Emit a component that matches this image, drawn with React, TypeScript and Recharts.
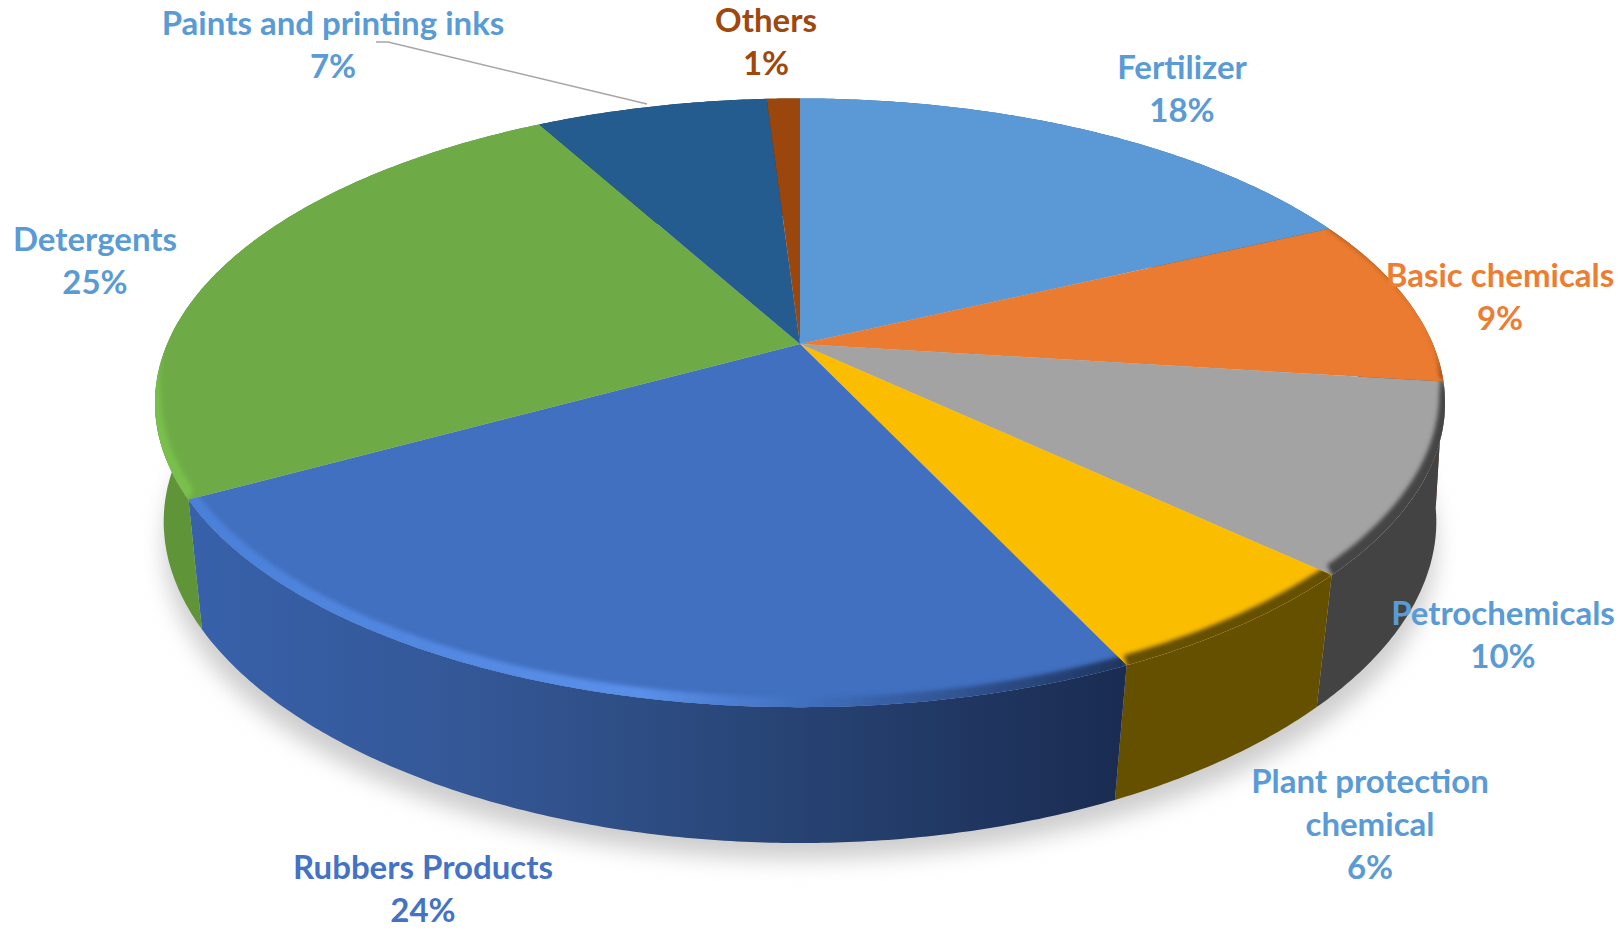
import React from "react";
import { PieChart, Pie } from "recharts";

const NAMES = ["Fertilizer", "Basic chemicals", "Petrochemicals", "Plant protection chemical", "Rubbers Products", "Detergents", "Paints and printing inks", "Others"];
const VALUES = [18, 9, 10, 6, 24, 25, 7, 1];
const LABEL_LINES = [["Fertilizer"], ["Basic chemicals"], ["Petrochemicals"], ["Plant protection", "chemical"], ["Rubbers Products"], ["Detergents"], ["Paints and printing inks"], ["Others"]];
const FILLS = ["#5a99d6", "#ea7b30", "#a3a3a3", "#fbbd00", "#4170c0", "#6eab47", "#255c90", "#9a460d"];
const WALLS = ["#2e5f8c", "#7a4018", "#434343", "#655000", "url(#wallRubber)", "#5f9438", "#16395a", "#5a2a08"];
const BEVELS = ["#5a99d6", "#7a4018", "#444444", "#655000", "url(#bevelRubber)", "#78bf4c", "#255c90", "#9a460d"];
const BEVEL_FLOOR = [0, 0.2, 0.1, 0, 0, 0, 0, 0];
const LABEL_COLORS = ["#5b9bd5", "#ed7d31", "#5b9bd5", "#5b9bd5", "#4472c4", "#5b9bd5", "#5b9bd5", "#9e480e"];
const LABEL_CENTERS = [[1182, 66], [1500, 274], [1503, 612], [1370, 780], [423, 866], [95, 238], [333, 22], [766, 19]];

const W = 1618, H = 930, CX = 800, CY = 344, R = 293;
const ASPECT = 2.16, K = 0.1932, LINE = 43, FONT = 33;
const WALL_SY = 1.03, WALL_D = 125;

const data = NAMES.map((name, i) => ({ name, value: VALUES[i] }));

function project(angle: number, r = 1) {
  const a = (angle * Math.PI) / 180;
  const x = r * Math.cos(a), y = -r * Math.sin(a);
  const d = 1 - K * y;
  return [(ASPECT * R * x) / d, (R * y) / d];
}
function arc(start: number, end: number, r = 1, map = (p: number[]) => [CX + p[0], CY + p[1]]) {
  const n = Math.max(2, Math.ceil(Math.abs(start - end) * 2));
  const pts: number[][] = [];
  for (let i = 0; i <= n; i++) pts.push(map(project(start + ((end - start) * i) / n, r)));
  return pts;
}
const toPath = (pts: number[][]) => pts.map((p, i) => `${i ? "L" : "M"}${p[0].toFixed(1)} ${p[1].toFixed(1)}`).join("");
const wallMap = (p: number[]) => {
  const s = 0.991 - (0.0243 * Math.max(p[1], 0)) / R;
  return [CX + p[0] * s, CY + p[1] * WALL_SY + WALL_D];
};
const bevelWeight = (y: number, floor: number) => Math.min(1, Math.max(floor, y / 60));

function WallShape(props: any) {
  const i = NAMES.indexOf(props.name);
  const top = arc(props.startAngle, props.endAngle);
  const bottom = arc(props.endAngle, props.startAngle, 1, wallMap);
  return <path d={toPath(top.concat(bottom)) + "Z"} fill={WALLS[i]} />;
}
function TopShape(props: any) {
  const i = NAMES.indexOf(props.name);
  const { startAngle: a, endAngle: b } = props;
  const face = `M${CX} ${CY}` + toPath(arc(a, b)).replace("M", "L") + "Z";
  const f = BEVEL_FLOOR[i];
  const outer = arc(a, b, 1, (p) => {
    const w = bevelWeight(p[1], f);
    return [CX + p[0] * (1 + 0.006 * w), CY + p[1] + 6 * w];
  });
  const inner = arc(b, a, 1, (p) => {
    const w = bevelWeight(p[1], f);
    return [CX + p[0] * (1 - 0.009 * w), CY + p[1] - 10 * w];
  });
  return (
    <g>
      <clipPath id={`clip${i}`}><path d={face} /></clipPath>
      <path d={face} fill={FILLS[i]} />
      <g clipPath={`url(#clip${i})`}>
        <path d={toPath(outer.concat(inner)) + "Z"} fill={BEVELS[i]} filter="url(#soft)" />
      </g>
    </g>
  );
}
function Label(props: any) {
  const i = NAMES.indexOf(props.name);
  const [x, y] = LABEL_CENTERS[i];
  const lines = [...LABEL_LINES[i], `${Math.round(props.percent * 100)}%`];
  return (
    <g>
      {i === 6 && <polyline points="376,42 388,42 647,104" fill="none" stroke="#a6a6a6" strokeWidth={1.5} />}
      <text x={x} y={y} textAnchor="middle" fill={LABEL_COLORS[i]} fontFamily="Lato, sans-serif" fontWeight={700} fontSize={FONT}>
        {lines.map((t, j) => <tspan key={j} x={x} y={y + j * LINE} dominantBaseline="central">{t}</tspan>)}
      </text>
    </g>
  );
}

const shadowPath = toPath(arc(0, 360, 1, (p) => [CX + p[0] * 0.985, CY + p[1] * WALL_SY + WALL_D + 16])) + "Z";

export default function App() {
  return (
    <div style={{ position: "absolute", left: 0, top: 0, width: W, height: H, background: "#fff" }}>
      <PieChart width={W} height={H} margin={{ top: 0, right: 0, bottom: 0, left: 0 }}>
        <defs>
          <filter id="soft" filterUnits="userSpaceOnUse" x="0" y="0" width={W} height={H}><feGaussianBlur stdDeviation="2.2" /></filter>
          <filter id="shadow" filterUnits="userSpaceOnUse" x="0" y="0" width={W} height={H}><feGaussianBlur stdDeviation="11" /></filter>
          <linearGradient id="wallRubber" gradientUnits="userSpaceOnUse" x1="195" y1="0" x2="1120" y2="0">
            <stop offset="0" stopColor="#3761aa" />
            <stop offset="0.3" stopColor="#345796" />
            <stop offset="0.6" stopColor="#294678" />
            <stop offset="1" stopColor="#1a2c52" />
          </linearGradient>
          <linearGradient id="bevelRubber" gradientUnits="userSpaceOnUse" x1="195" y1="0" x2="1125" y2="0">
            <stop offset="0" stopColor="#4a80d8" />
            <stop offset="0.48" stopColor="#5a90ea" />
            <stop offset="0.65" stopColor="#4170c0" />
            <stop offset="1" stopColor="#1f3560" />
          </linearGradient>
        </defs>
        <path d={shadowPath} fill="#cdcdcd" filter="url(#shadow)" />
        <Pie data={data} dataKey="value" nameKey="name" cx={CX} cy={CY} outerRadius={R} startAngle={90} endAngle={-270}
          isAnimationActive={false} shape={WallShape} stroke="none" label={false} labelLine={false} />
        <Pie data={data} dataKey="value" nameKey="name" cx={CX} cy={CY} outerRadius={R} startAngle={90} endAngle={-270}
          isAnimationActive={false} shape={TopShape} stroke="none" label={Label} labelLine={false} />
      </PieChart>
    </div>
  );
}
